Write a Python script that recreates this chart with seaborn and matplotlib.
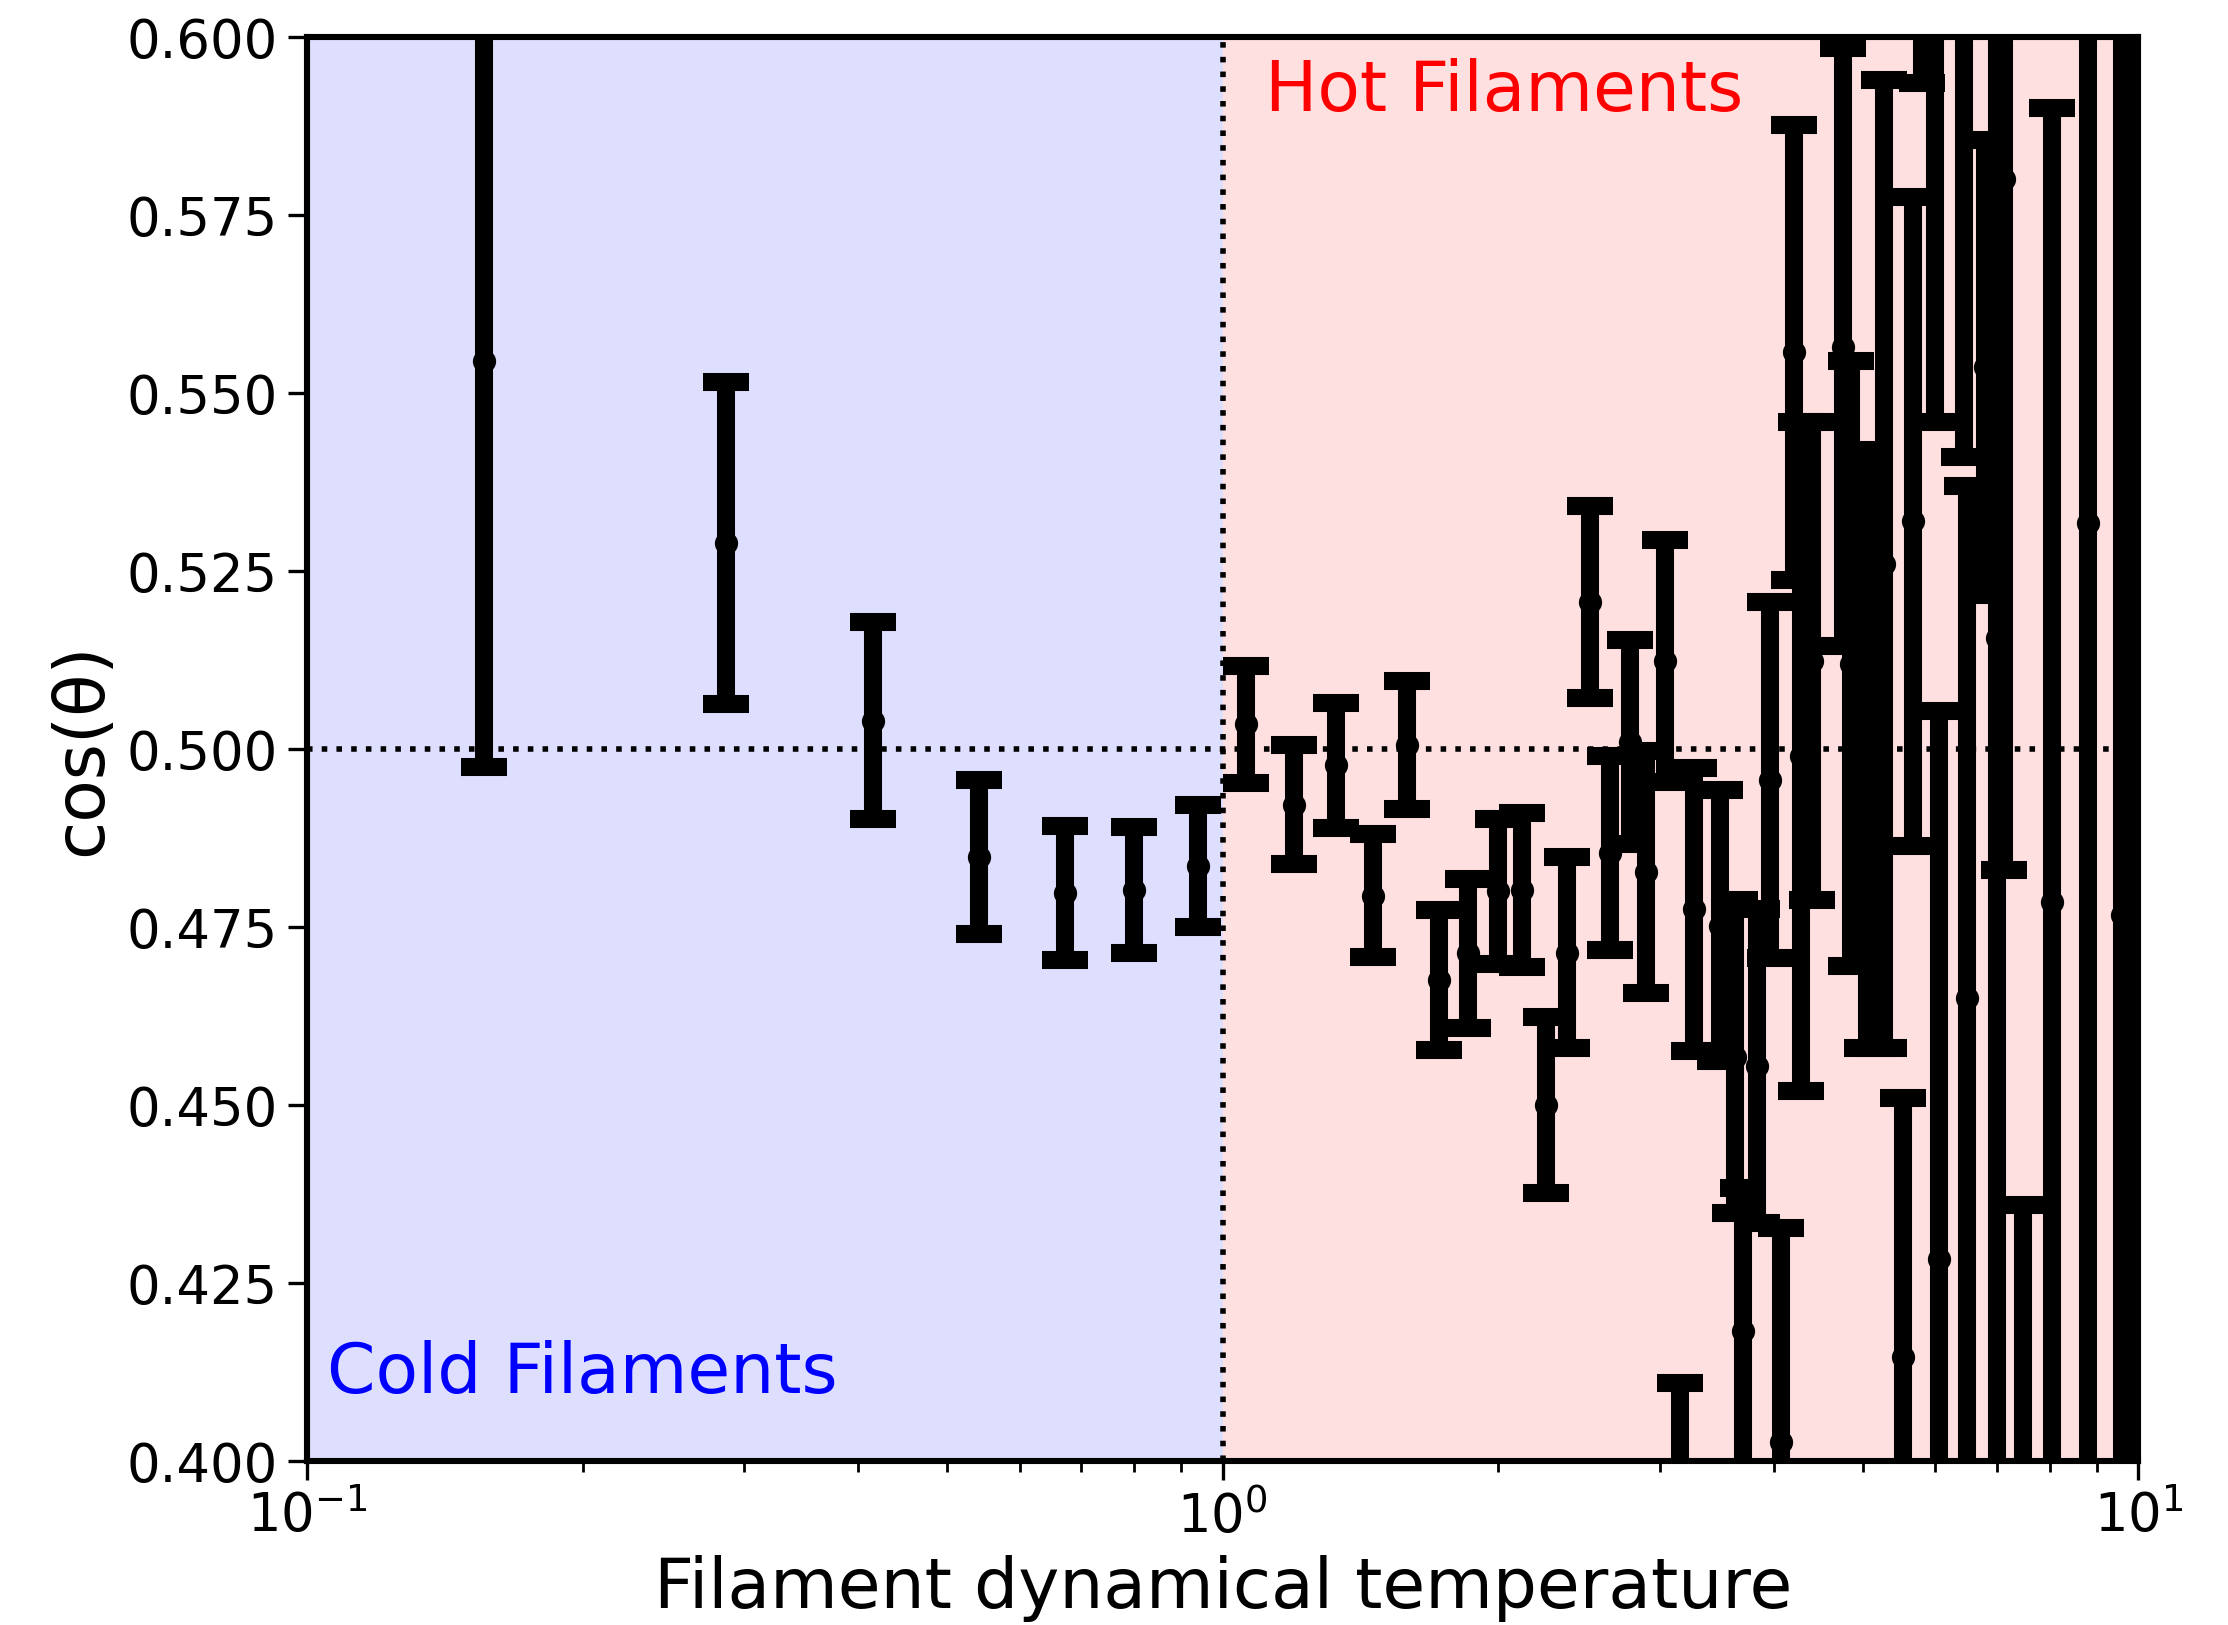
import matplotlib
matplotlib.use("Agg")
import matplotlib.pyplot as plt
from matplotlib.ticker import FormatStrFormatter, FixedLocator
import pandas as pd
import seaborn as sns

# Filament dynamical temperature (x) and mean alignment cos(theta) with its uncertainty
temperature = [
    0.156, 0.287, 0.415, 0.542, 0.672, 0.800, 0.939,
    1.060, 1.195, 1.328, 1.461, 1.588, 1.721, 1.851, 2.000, 2.120,
    2.253, 2.375, 2.516, 2.645, 2.782, 2.900, 3.040, 3.160, 3.270,
    3.490, 3.630, 3.700, 3.830, 3.960, 4.070, 4.210, 4.280, 4.400,
    4.760, 4.850, 5.050, 5.280, 5.530, 5.670, 5.800, 6.000, 6.060,
    6.450, 6.500, 6.800, 7.000, 7.140, 7.490, 8.050, 8.800, 9.600, 9.950,
]
cos_theta = [
    0.5545, 0.5289, 0.5040, 0.4848, 0.4798, 0.4802, 0.4836,
    0.5035, 0.4922, 0.4977, 0.4794, 0.5006, 0.4676, 0.4713, 0.4800, 0.4802,
    0.4500, 0.4714, 0.5207, 0.4854, 0.5010, 0.4827, 0.5124, 0.3700, 0.4775,
    0.4752, 0.4568, 0.4183, 0.4555, 0.4956, 0.4027, 0.5557, 0.4990, 0.5124,
    0.5565, 0.5120, 0.5000, 0.5260, 0.4146, 0.5320, 0.6220, 0.6120, 0.4284,
    0.6050, 0.4650, 0.5536, 0.5156, 0.5800, 0.3800, 0.4785, 0.5317, 0.4767, 0.5000,
]
cos_err = [
    0.0570, 0.0226, 0.0138, 0.0108, 0.0094, 0.0088, 0.0086,
    0.0082, 0.0083, 0.0088, 0.0086, 0.0090, 0.0098, 0.0105, 0.0102, 0.0108,
    0.0123, 0.0134, 0.0135, 0.0136, 0.0143, 0.0170, 0.0170, 0.0410, 0.0199,
    0.0190, 0.0220, 0.0200, 0.0220, 0.0250, 0.0300, 0.0320, 0.0470, 0.0336,
    0.0420, 0.0425, 0.0420, 0.0680, 0.0364, 0.0456, 0.0285, 0.0660, 0.0770,
    0.0640, 0.0720, 0.0320, 0.1500, 0.0970, 0.0560, 0.1115, 0.1450, 0.1500, 0.3000,
]

y_ticks = [0.400, 0.425, 0.450, 0.475, 0.500, 0.525, 0.550, 0.575, 0.600]

df = pd.DataFrame({"temperature": temperature, "cos_theta": cos_theta, "cos_err": cos_err})

sns.set_theme(style="ticks")
plt.rcParams["font.family"] = ["DejaVu Sans"]
plt.rcParams.update({
    "text.color": "black",
    "axes.labelcolor": "black",
    "xtick.color": "black",
    "ytick.color": "black",
})

fig = plt.figure(figsize=(11.14, 8.125), dpi=200)
ax = fig.add_axes([0.1378, 0.1009, 0.8220, 0.8763])
ax.set_xscale("log")

# cold / hot regimes
ax.axvspan(0.1, 1.0, color="blue", alpha=0.13, lw=0, zorder=0)
ax.axvspan(1.0, 10.0, color="red", alpha=0.12, lw=0, zorder=0)
ax.axhline(0.5, color="black", ls=":", lw=2, zorder=1)
ax.axvline(1.0, color="black", ls=":", lw=2, zorder=1)

ax.errorbar(df["temperature"], df["cos_theta"], yerr=df["cos_err"], fmt="none",
            ecolor="black", elinewidth=6.5, capsize=8.4, capthick=6.5, zorder=3)
sns.scatterplot(data=df, x="temperature", y="cos_theta", color="black",
                s=70, linewidth=0, ax=ax, zorder=4, legend=False)

ax.set_xlim(0.1, 10)
ax.set_ylim(0.4, 0.6)
ax.yaxis.set_major_locator(FixedLocator(y_ticks))
ax.yaxis.set_major_formatter(FormatStrFormatter("%.3f"))

ax.text(0.1052, 0.4096, "Cold Filaments", color="blue", fontsize=25, va="baseline")
ax.text(1.111, 0.5896, "Hot Filaments", color="red", fontsize=25, va="baseline")

ax.set_xlabel("Filament dynamical temperature", fontsize=25, color="black")
ax.set_ylabel("cos(θ)", fontsize=25, color="black")
ax.tick_params(axis="both", which="major", labelsize=19, length=7, width=1.2,
               direction="out", color="black", labelcolor="black")
ax.tick_params(axis="x", which="minor", length=4, width=1.0, color="black")
for s in ax.spines.values():
    s.set_linewidth(2.2)
    s.set_color("black")

fig.savefig("out.png", dpi=200)
